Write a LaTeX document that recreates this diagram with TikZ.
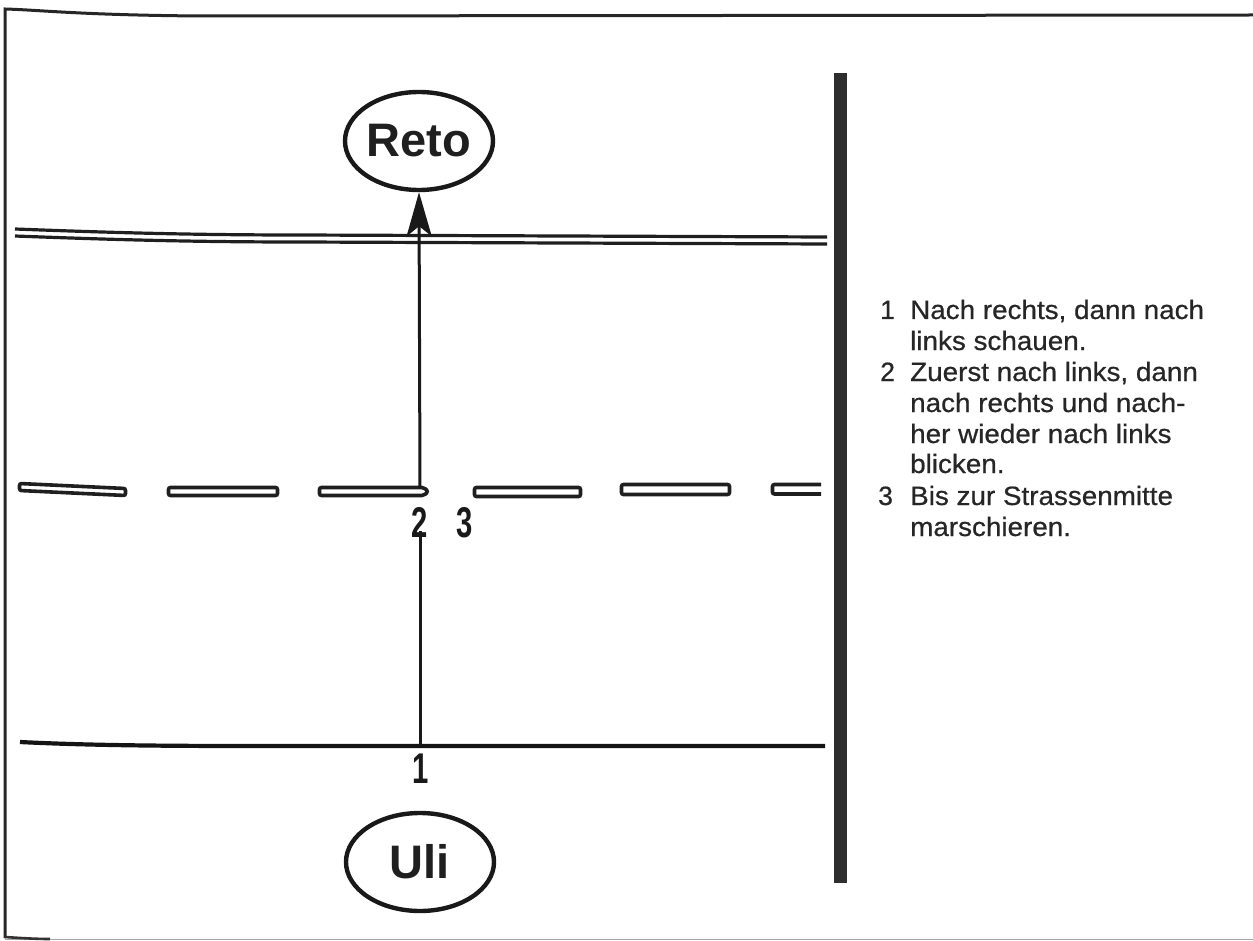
\documentclass[tikz,border=0pt]{standalone}
\usepackage{fontspec}
\setmainfont{Liberation Sans}
\newfontfamily\legendfont[FakeBold=0.6]{Liberation Sans}
\usetikzlibrary{shapes.geometric,arrows.meta}
\begin{document}
\begin{tikzpicture}[x=1pt,y=-1pt,
  frame/.style={line width=3pt, draw=black!85},
  road/.style={line width=3.2pt, draw=black!88},
  kerb/.style={line width=4.2pt, draw=black!92},
  dashbox/.style={line width=3.6pt, draw=black!88, fill=white, rounded corners=2pt},
  walk/.style={line width=3pt, draw=black!90},
  person/.style={ellipse, draw=black!90, line width=4.4pt, minimum width=148pt, minimum height=98pt, inner sep=0pt, font=\fontsize{47}{47}\selectfont\bfseries, text=black!88},
  marker/.style={font=\fontsize{43}{43}\selectfont\bfseries, inner sep=0pt, anchor=base, text=black!90},
  legend/.style={font=\legendfont\fontsize{26.5}{26.5}\selectfont, inner sep=0pt, anchor=base west, text=black!85},
]
\useasboundingbox (0,0) rectangle (1253,941);

% frame
\draw[frame] (1253,15) -- (200,16) .. controls (80,15) and (40,10) .. (5,9) -- (5,938);
\draw[line width=1pt, draw=black!35] (5,939) -- (1253,939);
\draw[line width=2.6pt, draw=black!80] (5,937) .. controls (20,938) and (35,939) .. (50,939);

% separator bar
\fill[black!82] (834,73) rectangle (847,883);

% far side double line
\draw[road] (15,229) .. controls (120,233) and (200,235) .. (300,235) -- (827,237);
\draw[road] (15,236) .. controls (120,240) and (200,242) .. (300,242) -- (827,244);

% near kerb
\draw[kerb] (20,742) .. controls (80,745) and (150,746) .. (250,746) -- (825,746);

% centre dashes
\draw[dashbox] (19.5,483.5) -- (125.5,488.5) -- (125.5,495.5) -- (19.5,490.5) -- cycle;
\draw[dashbox] (168.5,487.5) rectangle (277.5,495.5);
\draw[dashbox] (319.5,487.5) -- (424,487.5) -- (428,491.5) -- (424,495.5) -- (319.5,495.5) -- cycle;
\draw[dashbox] (474.5,487.5) rectangle (580.5,496.5);
\draw[dashbox] (621.5,484.5) rectangle (729.5,494.5);
\draw[line width=3.6pt, draw=black!88, rounded corners=2pt] (821,484.5) -- (772.5,484.5) -- (772.5,494) -- (821,494);

% persons
\node[person] (reto) at (419,141) {Reto};
\node[person] (uli) at (420,862) {Uli};

% step markers
\node[marker] (n1) at (421,783) {\scalebox{0.68}[1]{1}};
\node[marker] (n2) at (420,537) {\scalebox{0.68}[1]{2}};
\node[marker] (n3) at (465,537) {\scalebox{0.68}[1]{3}};

% walking path
\coordinate (kerbpt) at (420,746);
\coordinate (midpt) at (420,488);
\draw[walk] (kerbpt) -- ([yshift=6pt]n2.south);
\draw[walk, -{Stealth[length=44pt, width=25pt, inset=10pt]}] (midpt) -- (reto.south);

% legend
\node[legend] (l1n) at (880,319) {1};
\node[legend] (l1a) at (910,319) {\scalebox{1.05}[1]{Nach rechts, dann nach}};
\node[legend] (l1b) at (910,350) {\scalebox{1.05}[1]{links schauen.}};
\node[legend] (l2n) at (880,381) {2};
\node[legend] (l2a) at (910,381) {\scalebox{1.05}[1]{Zuerst nach links, dann}};
\node[legend] (l2b) at (910,412) {\scalebox{1.05}[1]{nach rechts und nach-}};
\node[legend] (l2c) at (910,443) {\scalebox{1.05}[1]{her wieder nach links}};
\node[legend] (l2d) at (910,473) {\scalebox{1.05}[1]{blicken.}};
\node[legend] (l3n) at (878,505) {3};
\node[legend] (l3a) at (910,505) {\scalebox{1.05}[1]{Bis zur Strassenmitte}};
\node[legend] (l3b) at (910,536) {\scalebox{1.05}[1]{marschieren.}};
\end{tikzpicture}
\end{document}
